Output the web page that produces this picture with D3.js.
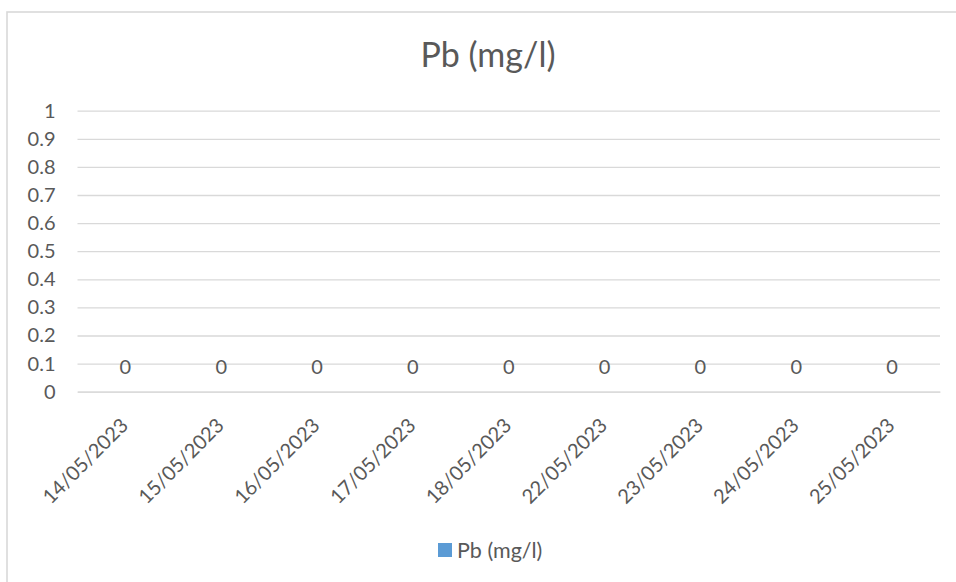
<!DOCTYPE html>
<html>
<head>
<meta charset="utf-8">
<script src="https://cdn.jsdelivr.net/npm/d3@7"></script>
<style>
  html, body { margin: 0; padding: 0; background: #ffffff; }
  svg { display: block; font-family: Lato, "Open Sans", sans-serif; }
</style>
</head>
<body>
<svg id="chart" width="956" height="582"></svg>
<script>
// Sampling dates and measured lead concentration (mg/l)
const categories = ["14/05/2023", "15/05/2023", "16/05/2023", "17/05/2023", "18/05/2023",
                    "22/05/2023", "23/05/2023", "24/05/2023", "25/05/2023"];
const values = [0, 0, 0, 0, 0, 0, 0, 0, 0];
const yTickValues = [0, 0.1, 0.2, 0.3, 0.4, 0.5, 0.6, 0.7, 0.8, 0.9, 1];
const seriesName = "Pb (mg/l)";
const chartTitle = "Pb (mg/l)";

const textColor = "#595959";
const gridColor = "#d9d9d9";
const barColor = "#5b9bd5";
const labelFont = "Lato, 'Open Sans', sans-serif";

const svg = d3.select("#chart");

// Chart area border (runs off the right and bottom edges)
svg.append("rect")
  .attr("x", 7).attr("y", 12)
  .attr("width", 1000).attr("height", 700)
  .attr("fill", "#ffffff")
  .attr("stroke", gridColor)
  .attr("stroke-width", 1.6);

const plot = { left: 77.5, right: 940, top: 110.7, bottom: 391.7 };

const x = d3.scaleBand().domain(categories).range([plot.left, plot.right]).padding(0);
const y = d3.scaleLinear().domain([0, 1]).range([plot.bottom, plot.top]);

// Title
svg.append("text")
  .attr("x", 488).attr("y", 67)
  .attr("text-anchor", "middle")
  .attr("fill", textColor)
  .attr("font-size", 34)
  .text(chartTitle);

// Horizontal gridlines and value axis labels
const yAxis = d3.axisLeft(y).tickValues(yTickValues)
  .tickSize(-(plot.right - plot.left))
  .tickPadding(22)
  .tickFormat(d => d3.format("")(+d.toFixed(1)));

const yG = svg.append("g")
  .attr("transform", `translate(${plot.left},0)`)
  .call(yAxis);
yG.select(".domain").remove();
yG.selectAll(".tick line").attr("stroke", gridColor).attr("stroke-width", 1.3);
yG.selectAll(".tick text")
  .attr("fill", textColor)
  .attr("font-size", 20)
  .attr("font-family", labelFont);

// Category axis with rotated date labels
const xAxis = d3.axisBottom(x).tickSize(0).tickPadding(0);
const xG = svg.append("g")
  .attr("transform", `translate(0,${plot.bottom})`)
  .call(xAxis);
xG.select(".domain").attr("stroke", gridColor).attr("stroke-width", 1.3);
xG.selectAll(".tick text")
  .attr("fill", textColor)
  .attr("font-size", 20)
  .attr("font-family", labelFont)
  .attr("text-anchor", "end")
  .attr("dy", 0)
  .attr("y", 0)
  .attr("transform", "translate(4,35) rotate(-45)");

// Columns
const barWidth = x.bandwidth() / 3.19;
svg.append("g").selectAll("rect")
  .data(values)
  .join("rect")
  .attr("x", (d, i) => x(categories[i]) + (x.bandwidth() - barWidth) / 2)
  .attr("y", d => y(d))
  .attr("width", barWidth)
  .attr("height", d => y(0) - y(d))
  .attr("fill", barColor);

// Value labels above each column
svg.append("g").selectAll("text")
  .data(values)
  .join("text")
  .attr("x", (d, i) => x(categories[i]) + x.bandwidth() / 2)
  .attr("y", d => y(d) - 17.5)
  .attr("text-anchor", "middle")
  .attr("fill", textColor)
  .attr("font-size", 20)
  .text(d => d);

// Legend
const legend = svg.append("g").attr("transform", "translate(438,543)");
legend.append("rect").attr("width", 14).attr("height", 14).attr("fill", barColor);
legend.append("text")
  .attr("x", 19).attr("y", 7)
  .attr("dy", "0.35em")
  .attr("fill", textColor)
  .attr("font-size", 21.5)
  .text(seriesName);
</script>
</body>
</html>
